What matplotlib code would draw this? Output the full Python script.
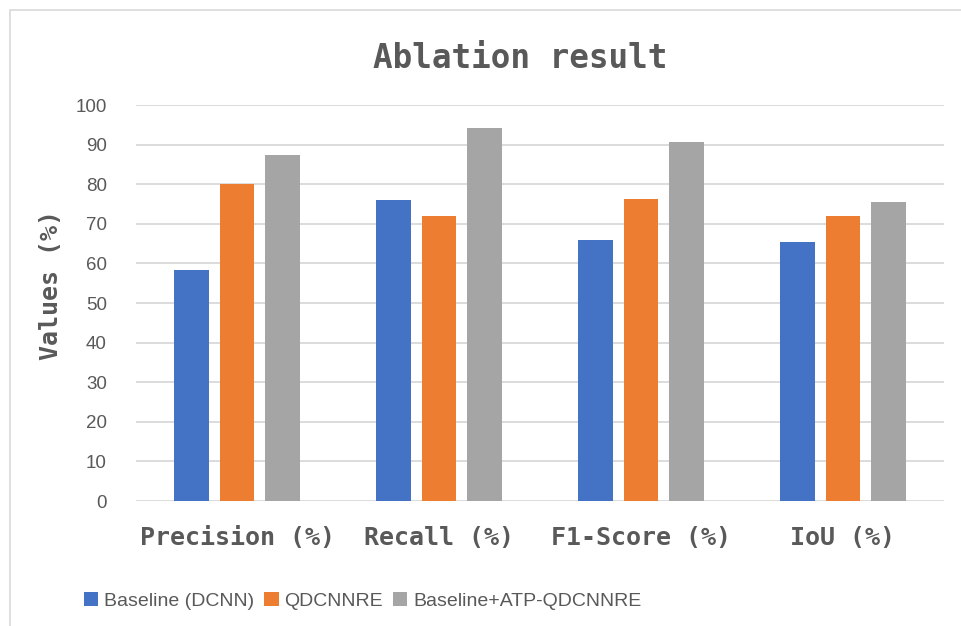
import matplotlib
matplotlib.use("Agg")
import matplotlib.pyplot as plt
import numpy as np
from matplotlib.patches import Rectangle

categories = ["Precision (%)", "Recall (%)", "F1-Score (%)", "IoU (%)"]
series_names = ["Baseline (DCNN)", "QDCNNRE", "Baseline+ATP-QDCNNRE"]
baseline = [58.3, 75.9, 65.9, 65.4]
qdcnnre = [80.0, 72.0, 76.3, 71.9]
atp_qdcnnre = [87.4, 94.2, 90.7, 75.4]
yticks = [0, 10, 20, 30, 40, 50, 60, 70, 80, 90, 100]

colors = ["#4472C4", "#ED7D31", "#A5A5A5"]
text_color = "#595959"
grid_color = "#D9D9D9"

fig = plt.figure(figsize=(9.62, 6.26), dpi=100)
ax = fig.add_axes([136 / 962, 1 - 501 / 626, (944 - 136) / 962, (501 - 105) / 626])

# Chart-area frame
fig.patches.append(Rectangle((10 / 962, -0.1), 1.2, 1 - 10 / 626 + 0.1,
                             transform=fig.transFigure, fill=False,
                             edgecolor=grid_color, linewidth=1.2, zorder=0))

x = np.arange(len(categories))
width = 0.173
step = 0.223
for i, (vals, name) in enumerate(zip([baseline, qdcnnre, atp_qdcnnre], series_names)):
    ax.bar(x + (i - 1) * step, vals, width, color=colors[i], label=name, zorder=3)

ax.set_xlim(-0.5, len(categories) - 0.5)
ax.set_ylim(0, 100)
ax.set_yticks(yticks)
ax.set_yticklabels([str(t) for t in yticks], fontsize=13.5, color=text_color,
                   family="Liberation Sans")
ax.tick_params(axis="y", length=0, pad=21)
ax.set_xticks(x)
ax.set_xticklabels(categories, fontsize=18, fontweight="bold", color=text_color,
                   family="DejaVu Sans Mono")
ax.tick_params(axis="x", length=0, pad=18)

ax.grid(axis="y", color=grid_color, linewidth=1.3, zorder=0)
ax.set_axisbelow(True)
for s in ax.spines.values():
    s.set_visible(False)

fig.text(51 / 962, 1 - 285 / 626, "Values (%)", rotation=90, ha="center", va="center",
         fontsize=18, fontweight="bold", color=text_color, family="DejaVu Sans Mono")
fig.text(520 / 962, 1 - 58 / 626, "Ablation result", ha="center", va="center",
         fontsize=23.5, fontweight="bold", color=text_color, family="DejaVu Sans Mono")

leg = fig.legend(loc="center left", bbox_to_anchor=(76 / 962, 1 - 601 / 626), ncol=3,
                 frameon=False, handlelength=0.75, handleheight=0.75,
                 handletextpad=0.3, columnspacing=0.5, borderaxespad=0,
                 prop={"family": "Liberation Sans", "size": 14})
for t in leg.get_texts():
    t.set_color(text_color)

fig.savefig("out.png", dpi=100, facecolor="white")
